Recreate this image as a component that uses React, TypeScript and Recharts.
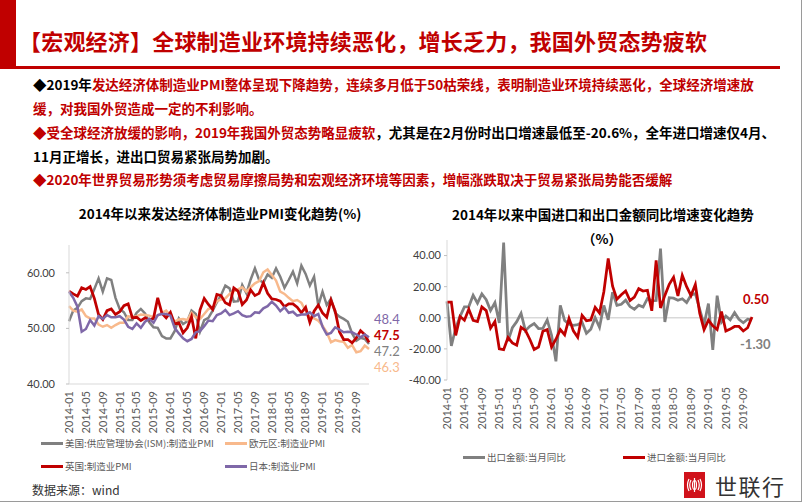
import React from 'react';
import { LineChart, Line, XAxis, YAxis, ReferenceLine } from 'recharts';

// months 2014-01 .. 2019-12
const months: string[] = [];
for (let y = 2014; y <= 2019; y++) {
  for (let m = 1; m <= 12; m++) months.push(`${y}-${String(m).padStart(2, '0')}`);
}

const usIsm = [
  51.3, 53.2, 53.7, 54.9, 55.4, 55.3, 57.1, 59.0, 56.6, 59.0, 58.7, 55.5,
  53.5, 52.9, 51.5, 51.5, 52.8, 53.5, 52.7, 51.1, 50.2, 50.1, 48.6, 48.2,
  48.2, 49.5, 51.8, 50.8, 51.3, 53.2, 52.6, 49.4, 51.5, 51.9, 53.2, 54.7,
  56.0, 57.7, 57.2, 54.8, 54.9, 57.8, 56.3, 58.8, 60.8, 58.7, 58.2, 59.7,
  59.1, 60.8, 59.3, 57.3, 58.7, 60.2, 58.1, 61.3, 59.8, 57.7, 59.3, 54.1,
  56.6, 54.2, 55.3, 52.8, 52.1, 51.7, 51.2, 49.1, 47.8, 48.3, 48.1, 47.2,
];
const euroZone = [
  54.0, 53.2, 53.0, 53.4, 52.2, 51.8, 51.8, 50.7, 50.3, 50.6, 50.1, 50.6,
  51.0, 51.0, 52.2, 52.0, 52.2, 52.5, 52.4, 52.3, 52.0, 52.3, 52.8, 53.2,
  52.3, 51.2, 51.6, 51.7, 51.5, 52.8, 52.0, 51.7, 52.6, 53.5, 53.7, 54.9,
  55.2, 55.4, 56.2, 56.7, 57.0, 57.4, 56.6, 57.4, 58.1, 58.5, 60.1, 60.6,
  59.6, 58.6, 56.6, 56.2, 55.5, 54.9, 55.1, 54.6, 53.2, 52.0, 51.8, 51.4,
  50.5, 49.3, 47.5, 47.9, 47.7, 47.6, 46.5, 47.0, 45.7, 45.9, 46.9, 46.3,
];
const uk = [
  56.7, 56.2, 55.8, 57.3, 57.0, 57.5, 55.4, 52.5, 51.6, 53.2, 53.5, 52.5,
  53.0, 54.1, 54.4, 51.9, 52.0, 51.4, 51.9, 51.5, 51.8, 55.5, 52.7, 51.9,
  52.9, 50.8, 51.0, 49.2, 50.1, 52.1, 48.2, 53.3, 55.4, 54.3, 53.4, 56.1,
  55.9, 54.6, 54.2, 57.3, 56.7, 54.3, 55.1, 56.9, 55.9, 56.3, 58.2, 56.3,
  55.3, 55.2, 54.9, 53.9, 54.4, 54.4, 53.8, 52.8, 53.8, 51.1, 53.1, 54.2,
  52.8, 52.0, 55.1, 53.1, 49.4, 48.0, 48.0, 47.4, 48.3, 49.6, 48.9, 47.5,
];
const japan = [
  56.6, 55.5, 53.9, 49.4, 49.9, 51.5, 50.5, 52.2, 51.7, 52.4, 52.0, 52.0,
  52.2, 51.6, 50.3, 49.9, 50.9, 50.1, 51.2, 51.7, 51.0, 52.4, 52.6, 52.6,
  52.3, 50.1, 49.1, 48.2, 47.7, 48.1, 49.3, 49.5, 50.4, 51.4, 51.3, 52.4,
  52.7, 53.3, 52.4, 52.7, 53.1, 52.4, 52.1, 52.2, 52.9, 52.8, 53.6, 54.0,
  54.8, 54.1, 53.1, 53.8, 52.8, 53.0, 52.3, 52.5, 52.5, 52.9, 52.2, 52.6,
  50.3, 48.9, 49.2, 50.2, 49.8, 49.3, 49.4, 49.3, 48.9, 48.4, 48.9, 48.4,
];

// 2014-01 .. 2019-11
const exportYoy = [
  10.6, -18.1, -6.6, 0.9, 7.0, 7.2, 14.5, 9.4, 15.3, 11.6, 4.7, 9.7,
  -3.3, 48.3, -15.0, -6.4, -2.5, 2.8, -8.3, -5.5, -3.7, -6.9, -6.8, -1.4,
  -11.2, -28.0, 8.0, -1.8, -4.1, -4.8, -4.4, -2.8, -10.0, -7.3, 0.1, -6.1,
  7.9, -1.3, 16.4, 8.0, 8.7, 11.3, 7.2, 5.5, 8.1, 6.9, 12.3, 10.9,
  11.1, 44.5, -2.7, 12.9, 12.6, 11.3, 12.2, 9.8, 14.5, 15.6, 5.4, -4.4,
  9.1, -20.7, 14.2, -2.7, 1.1, -1.3, 3.3, -1.0, -3.2, -0.9, -1.3,
];
const importYoy = [
  10.0, 10.1, -11.3, 0.8, -1.6, 5.5, -1.6, -2.4, 7.0, 4.6, -6.7, -2.4,
  -19.9, -20.5, -12.7, -16.2, -17.6, -6.1, -8.1, -13.8, -20.4, -18.8, -8.7, -7.6,
  -18.8, -13.8, -7.6, -10.9, -0.4, -8.4, -12.5, 1.5, -1.9, -1.4, 6.7, 3.1,
  16.7, 38.1, 20.3, 11.9, 14.8, 17.2, 11.0, 13.3, 18.7, 17.2, 17.7, 4.5,
  36.9, 6.3, 14.4, 21.5, 26.0, 14.1, 27.3, 20.0, 14.3, 21.4, 3.0, -7.6,
  -1.5, -5.2, -7.6, 4.0, -8.5, -7.3, -5.6, -5.6, -8.5, -6.4, 0.5,
];

const pmiTicks = [40, 50, 60];
const tradeTicks = [-40, -20, 0, 20, 40];

const pmiSeries = [
  { key: 'us', name: '美国:供应管理协会(ISM):制造业PMI', color: '#808080', width: 2.5, dx: 5, dy: 7, bold: false },
  { key: 'euro', name: '欧元区:制造业PMI', color: '#F8B98C', width: 2.5, dx: 5, dy: 18, bold: false },
  { key: 'uk', name: '英国:制造业PMI', color: '#C00000', width: 2.75, dx: 5, dy: -7.5, bold: true },
  { key: 'jp', name: '日本:制造业PMI', color: '#7F68A8', width: 2.5, dx: 5, dy: -18, bold: false },
];
const tradeSeries = [
  { key: 'exp', name: '出口金额:当月同比', color: '#808080', dx: -12, dy: 24 },
  { key: 'imp', name: '进口金额:当月同比', color: '#C00000', dx: -9, dy: -18 },
];

const pmiData = months.map((month, i) => ({
  month, us: usIsm[i], euro: euroZone[i], uk: uk[i], jp: japan[i],
}));
const tradeData = months.slice(0, exportYoy.length).map((month, i) => ({
  month, exp: exportYoy[i], imp: importYoy[i],
}));

const numFont = "Lato, 'Noto Sans CJK SC', sans-serif";
const cjkFont = "'Noto Sans CJK SC', 'Noto Sans', sans-serif";
const RED = '#C00000';

const RotTick = (props: any) => {
  const { x, y, payload } = props;
  return (
    <text
      x={x}
      y={y}
      transform={`rotate(-90 ${x} ${y})`}
      textAnchor="end"
      dy="0.35em"
      fontSize={11}
      fontFamily={numFont}
      fill="#595959"
    >
      {payload.value}
    </text>
  );
};

const endLabel = (color: string, dx: number, dy: number, bold: boolean, last: number, digits: number) =>
  (props: any) => {
    const { x, y, index, value } = props;
    if (index !== last) return null;
    return (
      <text
        x={x + dx}
        y={y + dy}
        fill={color}
        fontSize={13}
        fontWeight={bold ? 700 : 400}
        fontFamily={numFont}
        dominantBaseline="central"
      >
        {Number(value).toFixed(digits)}
      </text>
    );
  };

const LegendItem = ({ color, label, left, top }: any) => (
  <div style={{ position: 'absolute', left, top, display: 'flex', alignItems: 'center', whiteSpace: 'nowrap' }}>
    <div style={{ width: 22, height: 3, background: color, marginRight: 2 }} />
    <span style={{ fontSize: 9.5, color: '#595959', fontFamily: cjkFont }}>{label}</span>
  </div>
);

const Logo = () => (
  <div style={{ position: 'absolute', left: 684, top: 472, height: 26, display: 'flex', alignItems: 'center' }}>
    <svg width={21} height={26}>
      <rect x={0} y={0} width={21} height={26} fill="#D0121B" />
      <g fill="none" stroke="#fff" strokeWidth={1.2}>
        <path d="M5 7 Q2 13 5 19" />
        <path d="M7 8 Q4.5 13 7 18" />
        <path d="M16 7 Q19 13 16 19" />
        <path d="M14 8 Q16.5 13 14 18" />
        <ellipse cx={10.5} cy={13} rx={2} ry={4.5} />
        <line x1={10.5} y1={6} x2={10.5} y2={20} />
      </g>
    </svg>
    <span style={{ marginLeft: 10, fontSize: 22, lineHeight: '26px', color: '#333', fontFamily: cjkFont, letterSpacing: 1.5 }}>世联行</span>
  </div>
);

const lineStyle = (top: number): React.CSSProperties => ({
  position: 'absolute', left: 33, top, fontSize: 13.5, fontWeight: 700, whiteSpace: 'nowrap',
  fontFamily: cjkFont, lineHeight: '18px',
});

export default function App() {
  const lastPmi = pmiData.length - 1;
  const lastTrade = tradeData.length - 1;
  return (
    <div style={{ position: 'absolute', left: 0, top: 0, width: 802, height: 502, background: '#fff', overflow: 'hidden', boxSizing: 'border-box', borderRight: '1px solid #9a9a9a', borderBottom: '1px solid #9a9a9a' }}>
      {/* header */}
      <div style={{ position: 'absolute', left: 0, top: 0, width: 16, height: 69, background: RED }} />
      <div style={{ position: 'absolute', left: 16, top: 66, width: 764, height: 3, background: RED }} />
      <div style={{ position: 'absolute', left: 19, top: 25, fontSize: 22, fontWeight: 700, color: RED, fontFamily: cjkFont, whiteSpace: 'nowrap', lineHeight: '30px', letterSpacing: 0.2 }}>
        【宏观经济】全球制造业环境持续恶化，增长乏力，我国外贸态势疲软
      </div>

      {/* bullet text */}
      <div style={lineStyle(75)}>
        <span style={{ color: '#000' }}>◆2019年</span>
        <span style={{ color: RED }}>发达经济体制造业PMI整体呈现下降趋势，连续多月低于50枯荣线，表明制造业环境持续恶化，全球经济增速放</span>
      </div>
      <div style={{ ...lineStyle(99), color: RED }}>缓，对我国外贸造成一定的不利影响。</div>
      <div style={lineStyle(123)}>
        <span style={{ color: RED }}>◆受全球经济放缓的影响，2019年我国外贸态势略显疲软</span>
        <span style={{ color: '#000' }}>，尤其是在2月份时出口增速最低至-20.6%，全年进口增速仅4月、</span>
      </div>
      <div style={{ ...lineStyle(147), color: '#000' }}>11月正增长，进出口贸易紧张局势加剧。</div>
      <div style={{ ...lineStyle(170), color: RED }}>◆2020年世界贸易形势须考虑贸易摩擦局势和宏观经济环境等因素，增幅涨跌取决于贸易紧张局势能否缓解</div>

      {/* left chart */}
      <div style={{ position: 'absolute', left: 0, top: 203, width: 440, textAlign: 'center', fontSize: 13.5, fontWeight: 700, fontFamily: cjkFont, color: '#000' }}>
        2014年以来发达经济体制造业PMI变化趋势(%)
      </div>
      <div style={{ position: 'absolute', left: 0, top: 235 }}>
        <LineChart width={400} height={199} data={pmiData} margin={{ top: 10, right: 31, bottom: 0, left: 0 }}>
          <XAxis
            dataKey="month"
            interval={3}
            tick={<RotTick />}
            tickSize={0}
            tickMargin={7}
            height={50}
            axisLine={{ stroke: '#d9d9d9' }}
          />
          <YAxis
            domain={[40, 65]}
            ticks={pmiTicks}
            width={69}
            tickSize={3}
            tickMargin={11}
            tickLine={{ stroke: '#bfbfbf' }}
            axisLine={{ stroke: '#d9d9d9' }}
            tickFormatter={(v: number) => v.toFixed(2)}
            tick={{ fontSize: 11, fill: '#404040', fontFamily: numFont }}
          />
          {pmiSeries.map((s) => (
            <Line
              key={s.key}
              type="linear"
              dataKey={s.key}
              stroke={s.color}
              strokeWidth={s.width}
              dot={false}
              isAnimationActive={false}
              label={endLabel(s.color, s.dx, s.dy, s.bold, lastPmi, 1)}
            />
          ))}
        </LineChart>
      </div>
      <LegendItem color={pmiSeries[0].color} label={pmiSeries[0].name} left={41} top={436} />
      <LegendItem color={pmiSeries[1].color} label={pmiSeries[1].name} left={225} top={436} />
      <LegendItem color={pmiSeries[2].color} label={pmiSeries[2].name} left={41} top={459} />
      <LegendItem color={pmiSeries[3].color} label={pmiSeries[3].name} left={225} top={459} />
      <div style={{ position: 'absolute', left: 32, top: 481, fontSize: 12, color: '#333', fontFamily: cjkFont }}>数据来源：wind</div>

      {/* right chart */}
      <div style={{ position: 'absolute', left: 400, top: 204, width: 402, fontSize: 13.5, fontWeight: 700, fontFamily: cjkFont, color: '#000' }}>
        <div style={{ position: 'absolute', left: 52, whiteSpace: 'nowrap' }}>2014年以来中国进口和出口金额同比增速变化趋势</div>
        <div style={{ position: 'absolute', left: 182, top: 24, whiteSpace: 'nowrap' }}>（%）</div>
      </div>
      <div style={{ position: 'absolute', left: 400, top: 230 }}>
        <LineChart width={402} height={200} data={tradeData} margin={{ top: 10, right: 50, bottom: 0, left: 0 }}>
          <XAxis
            dataKey="month"
            interval={3}
            tick={<RotTick />}
            tickSize={0}
            tickMargin={7}
            height={50}
            axisLine={false}
          />
          <YAxis
            domain={[-40, 50]}
            ticks={tradeTicks}
            width={47}
            tickSize={3}
            tickMargin={3}
            tickLine={{ stroke: '#bfbfbf' }}
            axisLine={{ stroke: '#d9d9d9' }}
            tickFormatter={(v: number) => v.toFixed(2)}
            tick={{ fontSize: 11, fill: '#404040', fontFamily: numFont }}
          />
          <ReferenceLine y={0} stroke="#d9d9d9" strokeWidth={1.5} />
          {tradeSeries.map((s) => (
            <Line
              key={s.key}
              type="linear"
              dataKey={s.key}
              stroke={s.color}
              strokeWidth={2.75}
              dot={false}
              isAnimationActive={false}
              label={endLabel(s.color, s.dx, s.dy, true, lastTrade, 2)}
            />
          ))}
        </LineChart>
      </div>
      <LegendItem color={tradeSeries[0].color} label={tradeSeries[0].name} left={463} top={450} />
      <LegendItem color={tradeSeries[1].color} label={tradeSeries[1].name} left={623} top={450} />

      <Logo />
    </div>
  );
}
